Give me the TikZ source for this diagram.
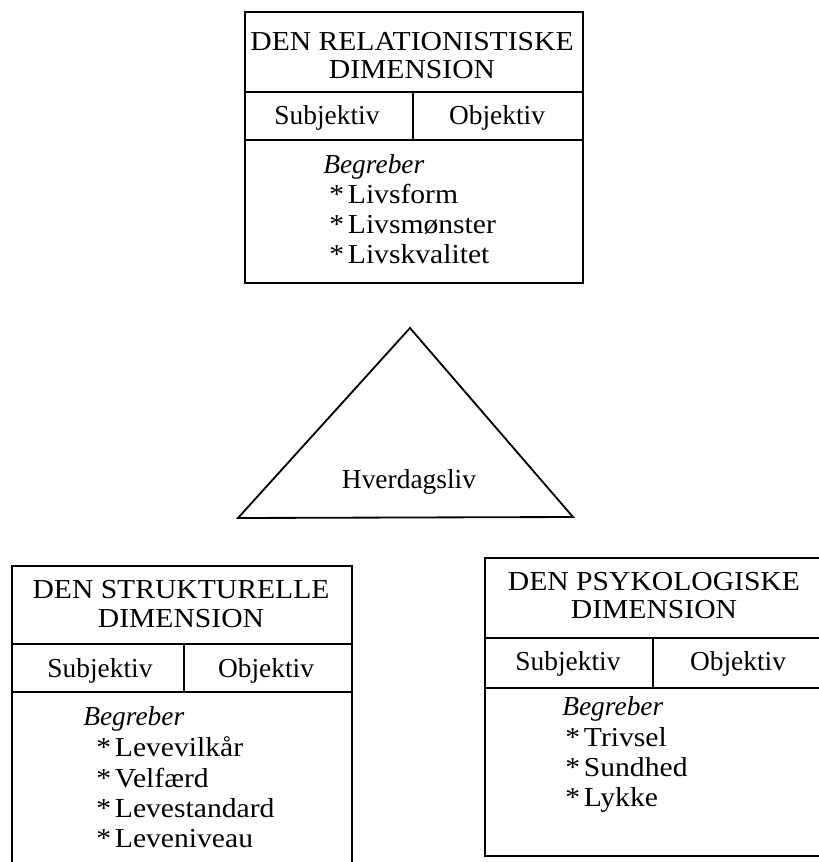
\documentclass[tikz,border=0pt]{standalone}
\usepackage{fontspec}
\setmainfont{Liberation Serif}
\newfontfamily\widefont[FakeStretch=1.08]{Liberation Serif}
\newcommand{\bul}{*\hspace{0.14em}}

\begin{document}
\begin{tikzpicture}[x=0.025cm, y=-0.025cm,
    box/.style={line width=1.3pt},
    head/.style={inner sep=0pt, anchor=base, font=\widefont\fontsize{19.5}{22}\selectfont},
    cell/.style={inner sep=0pt, anchor=base, font=\fontsize{19.5}{22}\selectfont},
    term/.style={inner sep=0pt, anchor=base west, font=\widefont\fontsize{19.5}{22}\selectfont},
    ital/.style={inner sep=0pt, anchor=base west, font=\itshape\fontsize{19.5}{22}\selectfont}]
  \useasboundingbox (0,0) rectangle (818,862);

  % relationistic dimension (top)
  \draw[box] (245,12) rectangle (583,283);
  \draw[box] (245,92) -- (583,92);
  \draw[box] (245,140) -- (583,140);
  \draw[box] (413,92) -- (413,140);
  \node[head] (relHead1) at (412,50) {DEN RELATIONISTISKE};
  \node[head] (relHead2) at (412,78) {DIMENSION};
  \node[cell] (relSub) at (327,124) {Subjektiv};
  \node[cell] (relObj) at (497,124) {Objektiv};
  \node[ital] (relBeg) at (323,173) {Begreber};
  \node[term] (relT1) at (329,203) {\bul Livsform};
  \node[term] (relT2) at (329,233) {\bul Livsmønster};
  \node[term] (relT3) at (329,263) {\bul Livskvalitet};

  % everyday life
  \draw[box] (410,328) -- (238,518) -- (573,517) -- cycle;
  \node[cell] (hverdag) at (409,488) {Hverdagsliv};

  % structural dimension (bottom left)
  \draw[box] (12,566) rectangle (352,880);
  \draw[box] (12,644) -- (352,644);
  \draw[box] (12,692) -- (352,692);
  \draw[box] (184,644) -- (184,692);
  \node[head] (strHead1) at (181,598) {DEN STRUKTURELLE};
  \node[head] (strHead2) at (181,627) {DIMENSION};
  \node[cell] (strSub) at (100,677) {Subjektiv};
  \node[cell] (strObj) at (266,677) {Objektiv};
  \node[ital] (strBeg) at (83,725) {Begreber};
  \node[term] (strT1) at (96,756) {\bul Levevilkår};
  \node[term] (strT2) at (96,787) {\bul Velfærd};
  \node[term] (strT3) at (96,817) {\bul Levestandard};
  \node[term] (strT4) at (96,847) {\bul Leveniveau};

  % psychological dimension (bottom right)
  \draw[box] (485,558) rectangle (840,856);
  \draw[box] (485,638) -- (840,638);
  \draw[box] (485,688) -- (840,688);
  \draw[box] (653,638) -- (653,688);
  \node[head] (psyHead1) at (654,590) {DEN PSYKOLOGISKE};
  \node[head] (psyHead2) at (654,618) {DIMENSION};
  \node[cell] (psySub) at (568,670) {Subjektiv};
  \node[cell] (psyObj) at (738,670) {Objektiv};
  \node[ital] (psyBeg) at (562,715) {Begreber};
  \node[term] (psyT1) at (565,746) {\bul Trivsel};
  \node[term] (psyT2) at (565,776) {\bul Sundhed};
  \node[term] (psyT3) at (565,806) {\bul Lykke};
\end{tikzpicture}
\end{document}
